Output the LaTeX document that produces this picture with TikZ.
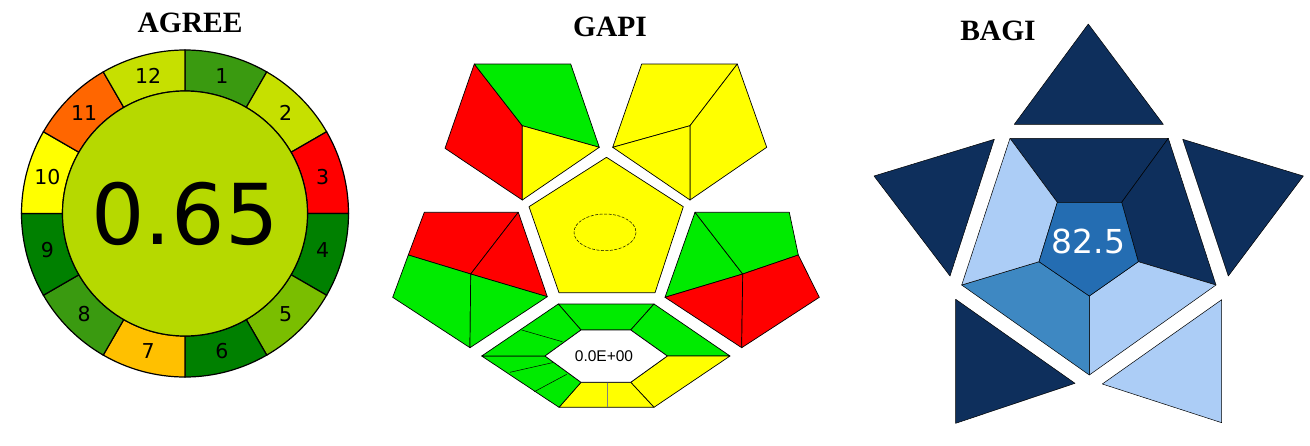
\documentclass[tikz,border=0pt]{standalone}
\usepackage{fontspec}
\setmainfont{Liberation Serif}
\newfontfamily\dejavu{DejaVu Sans}
\newfontfamily\arialf{Liberation Sans}
\definecolor{agA}{RGB}{58,154,16}
\definecolor{agB}{RGB}{198,224,0}
\definecolor{agDark}{RGB}{0,128,0}
\definecolor{agMid}{RGB}{122,190,0}
\definecolor{agOrange}{RGB}{255,192,0}
\definecolor{agRed}{RGB}{255,0,0}
\definecolor{agYellow}{RGB}{255,255,0}
\definecolor{agOr2}{RGB}{255,102,0}
\definecolor{agCenter}{RGB}{182,217,0}
\definecolor{gpGreen}{RGB}{0,235,0}
\definecolor{gpYellow}{RGB}{255,255,0}
\definecolor{gpRed}{RGB}{255,0,0}
\definecolor{bgDark}{RGB}{14,47,92}
\definecolor{bgLight}{RGB}{172,205,246}
\definecolor{bgMid}{RGB}{62,136,194}
\definecolor{bgCenter}{RGB}{36,109,178}
\begin{document}
\begin{tikzpicture}[x=1pt,y=-1pt,
  agseg/.style={draw=black,line width=1.2pt},
  gp/.style={draw=black,line width=0.7pt,line join=round},
  gpline/.style={draw=black,line width=0.5pt},
  bg/.style={draw=black,line width=0.5pt,line join=round},
  title/.style={font=\fontsize{29.5}{30}\selectfont\bfseries,anchor=base,inner sep=0pt},
  agnum/.style={font=\dejavu\fontsize{20.5}{20.5}\selectfont,inner sep=0pt}]
\path[use as bounding box,fill=white] (0,0) rectangle (1310,445);

% ---------------- AGREE ----------------
\node[title] (tAgree) at (190,32) {AGREE};
\begin{scope}[shift={(185,213.5)},yscale=-1]
\foreach \i/\c in {1/agA,2/agB,3/agRed,4/agDark,5/agMid,6/agDark,7/agOrange,8/agA,9/agDark,10/agYellow,11/agOr2,12/agB}{
  \pgfmathsetmacro{\aa}{90-30*(\i-1)}
  \pgfmathsetmacro{\ab}{90-30*\i}
  \pgfmathsetmacro{\am}{90-30*\i+15}
  \path[agseg,fill=\c] (\aa:122.5) -- (\aa:163.5) arc[start angle=\aa,end angle=\ab,radius=163.5]
     -- (\ab:122.5) arc[start angle=\ab,end angle=\aa,radius=122.5] -- cycle;
  \node[agnum] (ag\i) at (\am:142.5) {\i};
}
\path[agseg,fill=agCenter] (0,0) circle[radius=122.5];
\node[font=\dejavu\fontsize{84}{84}\selectfont,inner sep=0pt] (agScore) at (0,0) {0.65};
\end{scope}

% ---------------- GAPI ----------------
\node[title] (tGapi) at (610,36) {GAPI};
% top-left pentagon
\coordinate (a1) at (474.3,64); \coordinate (a2) at (570.7,64); \coordinate (a3) at (599.3,147.3);
\coordinate (a4) at (522.3,200); \coordinate (a5) at (445,148.3); \coordinate (ai) at (522.3,125.7);
\path[gp,fill=gpRed] (a1) -- (ai) -- (a4) -- (a5) -- cycle;
\path[gp,fill=gpGreen] (a1) -- (a2) -- (a3) -- (ai) -- cycle;
\path[gp,fill=gpYellow] (ai) -- (a3) -- (a4) -- cycle;
% top-right pentagon
\coordinate (b1) at (641.7,64); \coordinate (b2) at (737.3,64); \coordinate (b3) at (766.7,147.3);
\coordinate (b4) at (690,200); \coordinate (b5) at (612.7,147.3); \coordinate (bi) at (690,125.7);
\path[gp,fill=gpYellow] (b5) -- (b1) -- (b2) -- (bi) -- cycle;
\path[gp,fill=gpYellow] (b2) -- (b3) -- (b4) -- (bi) -- cycle;
\path[gp,fill=gpYellow] (b5) -- (bi) -- (b4) -- cycle;
% centre pentagon
\path[gp,fill=gpYellow] (606.5,157.3) -- (683.3,206.7) -- (655,292.7) -- (559,292.7) -- (529,206.7) -- cycle;
\draw[black,line width=0.5pt,dash pattern=on 3pt off 1.5pt] (605,232.3) ellipse[x radius=31,y radius=18.3];
% left pentagon
\coordinate (c1) at (424.3,212.3); \coordinate (c2) at (518.3,212.3); \coordinate (c3) at (547.3,296.7);
\coordinate (c4) at (470,347.7); \coordinate (c5) at (392.7,297.3); \coordinate (ci) at (470.7,274);
\coordinate (cp) at (408.3,255);
\path[gp,fill=gpRed] (c1) -- (c2) -- (ci) -- (cp) -- cycle;
\path[gp,fill=gpRed] (c2) -- (c3) -- (ci) -- cycle;
\path[gp,fill=gpGreen] (cp) -- (ci) -- (c4) -- (c5) -- cycle;
\path[gp,fill=gpGreen] (ci) -- (c3) -- (c4) -- cycle;
% right pentagon
\coordinate (d1) at (695,212.3); \coordinate (d2) at (789.3,212.3); \coordinate (d3) at (819.3,297.3);
\coordinate (d4) at (741.7,347.7); \coordinate (d5) at (665,297.3); \coordinate (di) at (742.7,274);
\coordinate (dq) at (798.3,255);
\path[gp,fill=gpGreen] (d1) -- (di) -- (d5) -- cycle;
\path[gp,fill=gpGreen] (d1) -- (d2) -- (dq) -- (di) -- cycle;
\path[gp,fill=gpRed] (d5) -- (di) -- (d4) -- cycle;
\path[gp,fill=gpRed] (di) -- (dq) -- (d3) -- (d4) -- cycle;
% bottom hexagon ring
\coordinate (o1) at (558.3,304); \coordinate (o2) at (654,304); \coordinate (o3) at (730,356);
\coordinate (o4) at (654,407.3); \coordinate (o5) at (559,407.3); \coordinate (o6) at (481.7,356);
\coordinate (n1) at (581,330); \coordinate (n2) at (630.7,330); \coordinate (n3) at (667.3,356);
\coordinate (n4) at (630.7,382.3); \coordinate (n5) at (581,382.3); \coordinate (n6) at (545,356);
\path[gp,fill=gpGreen] (o1) -- (o2) -- (n2) -- (n1) -- cycle;
\path[gp,fill=gpGreen] (o2) -- (o3) -- (n3) -- (n2) -- cycle;
\path[gp,fill=gpYellow] (o3) -- (o4) -- (n4) -- (n3) -- cycle;
\path[gp,fill=gpYellow] (o4) -- (o5) -- (n5) -- (n4) -- cycle;
\path[gp,fill=gpGreen] (o5) -- (o6) -- (n6) -- (n5) -- cycle;
\path[gp,fill=gpGreen] (o6) -- (o1) -- (n1) -- (n6) -- cycle;
\draw[gray,line width=0.4pt] (606.7,382.3) -- (606.7,407.3);
\draw[gpline] (521.7,330) -- (562.3,341.7);
\draw[gpline] (510,372.3) -- (556.7,361.7);
\draw[gpline] (534.3,391.7) -- (566.7,374.3);
\path[gp,fill=white] (n1) -- (n2) -- (n3) -- (n4) -- (n5) -- (n6) -- cycle;
\node[font=\arialf\fontsize{15.5}{15.5}\selectfont,inner sep=0pt] (gpScore) at (604,356) {0.0E+00};

% ---------------- BAGI ----------------
\node[title] (tBagi) at (998,40) {BAGI};
\coordinate (p1) at (1010,138.3); \coordinate (p2) at (1168.3,138.3); \coordinate (p3) at (1216,285);
\coordinate (p4) at (1089.3,375); \coordinate (p5) at (961.7,285);
\coordinate (q1) at (1057.3,202.3); \coordinate (q2) at (1121.7,202.3); \coordinate (q3) at (1138.3,261.7);
\coordinate (q4) at (1089.3,296); \coordinate (q5) at (1039,261.7);
\path[bg,fill=bgDark] (p1) -- (p2) -- (q2) -- (q1) -- cycle;
\path[bg,fill=bgDark] (p2) -- (p3) -- (q3) -- (q2) -- cycle;
\path[bg,fill=bgLight] (p3) -- (p4) -- (q4) -- (q3) -- cycle;
\path[bg,fill=bgMid] (p4) -- (p5) -- (q5) -- (q4) -- cycle;
\path[bg,fill=bgLight] (p5) -- (p1) -- (q1) -- (q5) -- cycle;
\path[bg,fill=bgCenter] (q1) -- (q2) -- (q3) -- (q4) -- (q5) -- cycle;
\node[font=\dejavu\fontsize{33}{33}\selectfont,text=white,inner sep=0pt] (bgScore) at (1088.3,241.7) {82.5};
% triangles
\path[bg,fill=bgDark] (1088.3,24) -- (1163.3,124.3) -- (1014.3,124.3) -- cycle;
\path[bg,fill=bgDark] (874,176) -- (994.3,139.3) -- (950,276) -- cycle;
\path[bg,fill=bgDark] (1182.7,139.3) -- (1303.3,176) -- (1228.3,276) -- cycle;
\path[bg,fill=bgDark] (955.7,299.3) -- (1075,383.3) -- (955.7,423.3) -- cycle;
\path[bg,fill=bgLight] (1221.7,299.7) -- (1221.7,422.7) -- (1102.3,384) -- cycle;
\end{tikzpicture}
\end{document}
